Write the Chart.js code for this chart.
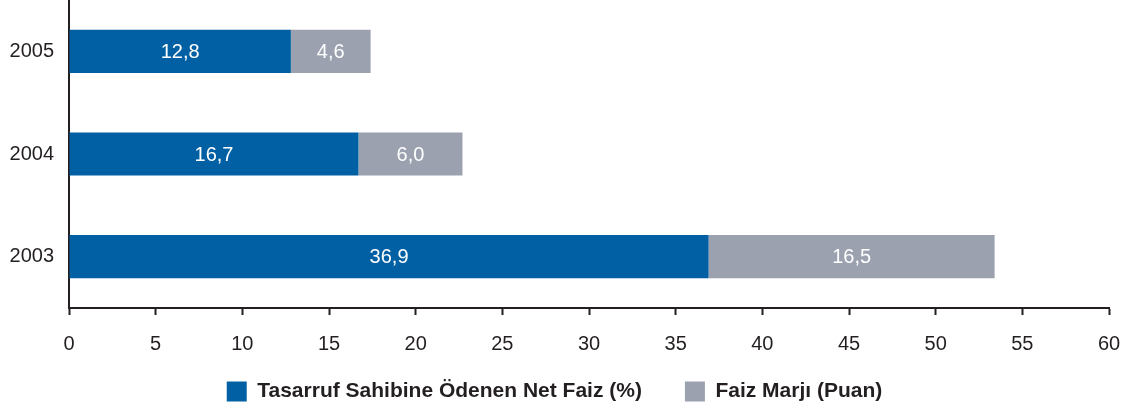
<!DOCTYPE html>
<html>
<head>
<meta charset="utf-8">
<script src="https://cdn.jsdelivr.net/npm/chart.js@4.4.0/dist/chart.umd.min.js"></script>
<style>
   html, body { margin: 0; padding: 0; background: #ffffff; }
   #wrap { width: 1129px; height: 409px; }
</style>
</head>
<body>
<div id="wrap"><canvas id="chart" width="1129" height="409"></canvas></div>
<script>
// values
const years = ["2005", "2004", "2003"];
const netInterest = [12.8, 16.7, 36.9];
const interestMargin = [4.6, 6.0, 16.5];
const xTicks = [0, 5, 10, 15, 20, 25, 30, 35, 40, 45, 50, 55, 60];

const seriesNames = ["Tasarruf Sahibine Ödenen Net Faiz (%)", "Faiz Marjı (Puan)"];
const blue = "#0060A3";
const grey = "#9BA1AF";
const ink = "#231F20";
const fontFamily = "'Liberation Sans', Arial, Helvetica, sans-serif";

function formatValue(v)
{
   return v.toFixed(1).replace(".", ",");
}

// writes each value in the middle of its bar
const barLabels = {
   id: "barLabels",
   afterDatasetsDraw(chart)
   {
      const ctx = chart.ctx;
      ctx.save();
      ctx.font = "20px " + fontFamily;
      ctx.fillStyle = "#ffffff";
      ctx.textAlign = "center";
      ctx.textBaseline = "middle";
      chart.data.datasets.forEach(function(dataset, i)
      {
         chart.getDatasetMeta(i).data.forEach(function(bar, j)
         {
            const x = (bar.x + bar.base) / 2;
            ctx.fillText(formatValue(dataset.data[j]), x, bar.y + 1);
         });
      });
      ctx.restore();
   }
};

// the wide item gap makes the legend tall, so pull its top up
// (bottom stays put so the clip box still covers the row)
const legendShift = {
   id: "legendShift",
   afterLayout(chart)
   {
      chart.legend.top -= 31;
   }
};

new Chart(document.getElementById("chart").getContext("2d"),
{
   type: "bar",
   data:
   {
      labels: years,
      datasets: [
         { label: seriesNames[0], data: netInterest, backgroundColor: blue },
         { label: seriesNames[1], data: interestMargin, backgroundColor: grey },
      ],
   },
   options:
   {
      indexAxis: "y",
      responsive: false,
      animation: false,
      layout: { padding: { top: 0, right: 20, left: 0, bottom: 0 } },
      datasets: { bar: { barPercentage: 0.42, categoryPercentage: 1.0 } },
      scales:
      {
         x:
         {
            stacked: true,
            min: 0,
            max: 60,
            afterBuildTicks: function(scale)
            {
               scale.ticks = xTicks.map(function(v) { return { value: v }; });
            },
            afterFit: function(scale)
            {
               scale.height = 61;
               scale.paddingLeft = 0;
               scale.paddingRight = 0;
            },
            grid: { drawOnChartArea: false, drawTicks: true, tickLength: 7, tickWidth: 2, tickColor: ink },
            border: { display: true, color: ink, width: 2 },
            ticks: { color: ink, padding: 17, font: { size: 20, family: fontFamily } },
         },
         y:
         {
            stacked: true,
            afterFit: function(scale)
            {
               scale.width = 69;
               scale.paddingTop = 0;
               scale.paddingBottom = 0;
            },
            grid: { drawOnChartArea: false, drawTicks: false },
            border: { display: true, color: ink, width: 2 },
            ticks: { color: ink, padding: 15, font: { size: 20, family: fontFamily } },
         },
      },
      plugins:
      {
         legend:
         {
            position: "bottom",
            maxHeight: 40,
            labels:
            {
               boxWidth: 20,
               boxHeight: 20,
               padding: 43,
               color: ink,
               font: { size: 21, weight: "bold", family: fontFamily },
            },
         },
         tooltip: { enabled: false },
      },
   },
   plugins: [barLabels, legendShift],
});
</script>
</body>
</html>
